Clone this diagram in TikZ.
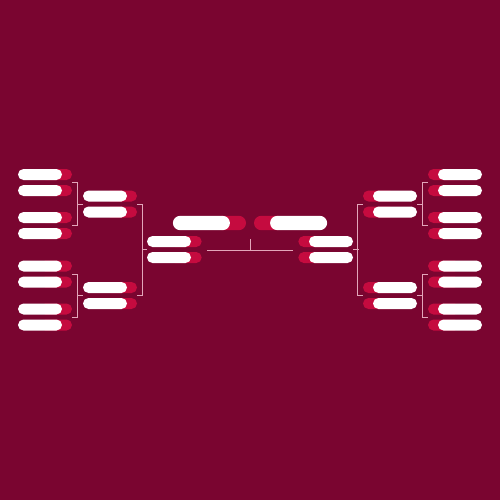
\documentclass[tikz,border=0pt]{standalone}
\usetikzlibrary{calc,shapes.misc}
\definecolor{bg}{HTML}{7A0530}
\definecolor{pinkred}{HTML}{C50B3F}
\definecolor{linec}{HTML}{E3A6BA}
\tikzset{
  wpill/.style={rounded rectangle, fill=white, draw=none, inner sep=0pt, minimum width=44pt, minimum height=11pt},
  ppill/.style={rounded rectangle, fill=pinkred, draw=none, inner sep=0pt, minimum width=32pt, minimum height=11pt},
  wfinal/.style={rounded rectangle, fill=white, draw=none, inner sep=0pt, minimum width=57pt, minimum height=14.3pt},
  pfinal/.style={rounded rectangle, fill=pinkred, draw=none, inner sep=0pt, minimum width=31pt, minimum height=14.3pt},
  conn/.style={draw=linec, line width=0.8pt}
}
\begin{document}
\begin{tikzpicture}[x=1pt,y=-1pt]
\fill[bg] (0,0) rectangle (500,500);
\useasboundingbox (0,0) rectangle (500,500);
\foreach \s/\n/\a/\b in {1/L/east/west,-1/R/west/east}{
  % round 1
  \foreach \y [count=\i] in {174.5,190.5,217.5,233.5,266,282,309,325}{
    \node[ppill] (\n-p1-\i) at ({250-\s*(250-56)},\y) {};
    \node[wpill] (\n-w1-\i) at ({250-\s*(250-40)},\y) {};
  }
  % round 2
  \foreach \y [count=\i] in {196,212,287.5,303.5}{
    \node[ppill] (\n-p2-\i) at ({250-\s*(250-121)},\y) {};
    \node[wpill] (\n-w2-\i) at ({250-\s*(250-105)},\y) {};
  }
  % semifinal
  \foreach \y [count=\i] in {241.5,257.5}{
    \node[ppill] (\n-p3-\i) at ({250-\s*(250-185.7)},\y) {};
    \node[wpill] (\n-w3-\i) at ({250-\s*(250-169)},\y) {};
  }
  % final
  \node[pfinal] (\n-pf) at ({250-\s*(250-230.5)},223) {};
  \node[wfinal] (\n-wf) at ({250-\s*(250-201.4)},223) {};
  % match points
  \foreach \i/\j/\k in {1/1/2,2/3/4,3/5/6,4/7/8}{
    \coordinate (\n-m1-\i) at ($(\n-p1-\j.\a)!0.5!(\n-p1-\k.\a)$);
  }
  \foreach \i/\j/\k in {1/1/2,2/3/4}{
    \coordinate (\n-m2-\i) at ($(\n-p2-\j.\a)!0.5!(\n-p2-\k.\a)$);
    \coordinate (\n-in2-\i) at ($(\n-w2-\j.\b)!0.5!(\n-w2-\k.\b)$);
  }
  \coordinate (\n-m3) at ($(\n-p3-1.\a)!0.5!(\n-p3-2.\a)$);
  \coordinate (\n-in3) at ($(\n-w3-1.\b)!0.5!(\n-w3-2.\b)$);
  % brackets round 1
  \draw[conn] (\n-m1-1) -- ++({\s*5.2},0) |- (\n-m1-2);
  \draw[conn] (\n-m1-3) -- ++({\s*5.2},0) |- (\n-m1-4);
  \draw[conn] (\n-in2-1) -- ++({-\s*5.8},0);
  \draw[conn] (\n-in2-2) -- ++({-\s*5.8},0);
  % bracket round 2
  \draw[conn] (\n-m2-1) -- ++({\s*5},0) |- (\n-m2-2);
  \draw[conn] (\n-in3) -- ++({-\s*5.3},0);
}
% centre line
\coordinate (cl) at ($(L-m3)+(5,0.5)$);
\coordinate (cr) at ($(R-m3)+(-5,0.5)$);
\coordinate (ctop) at (250,239.3);
\draw[conn] (cl) -- (cr);
\draw[conn] ($(cl)!0.5!(cr)$) -- (ctop);
\end{tikzpicture}
\end{document}
